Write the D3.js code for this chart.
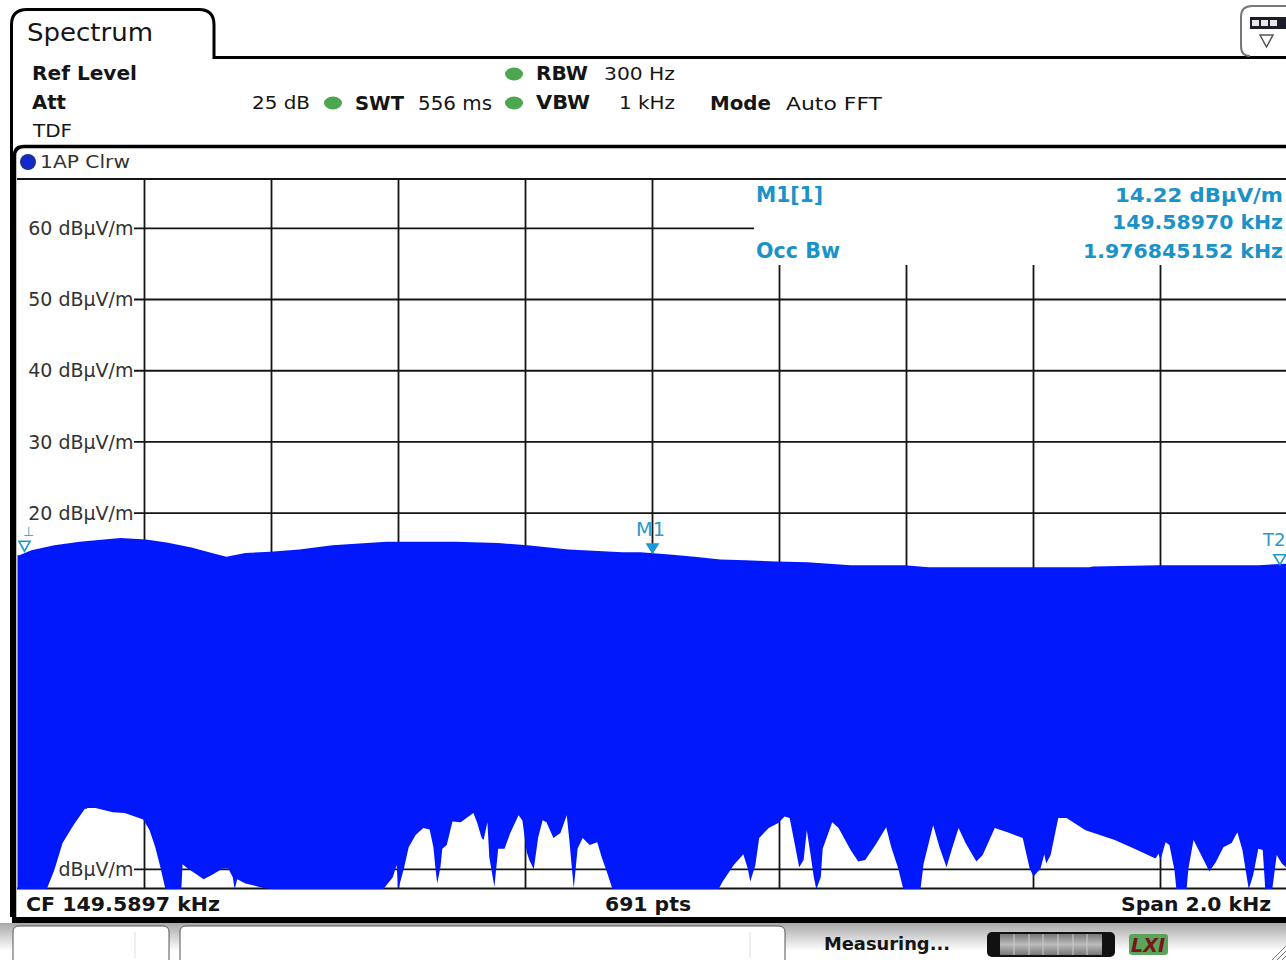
<!DOCTYPE html>
<html><head><meta charset="utf-8">
<style>html,body{margin:0;padding:0;background:#fff;overflow:hidden}svg{display:block}text{font-family:"DejaVu Sans",sans-serif}</style>
<script src="https://cdnjs.cloudflare.com/ajax/libs/d3/7.8.5/d3.min.js"></script>
</head><body><svg id="c" width="1286" height="960"></svg>
<script>
const spanHz = 2000;
const gridHz = [200,400,600,800,1000,1200,1400,1600,1800];
const levels = [60,50,40,30,20,10,0,-10,-20,-30];
const peakHz = [0,3,22,58,98,162,202,235,274,306,329,359,398,444,496,581,691,757,803,868,953,981,1027,1066,1107,1146,1195,1244,1312,1397,1435,1597,1688,1694,1798,1954,2000];
const peakDb = [14.1,14.1,14.8,15.5,16.0,16.5,16.3,15.9,15.2,14.4,13.9,14.4,14.6,14.9,15.5,16.0,16.0,15.8,15.5,14.9,14.5,14.5,14.2,13.9,13.5,13.4,13.2,13.1,12.7,12.7,12.4,12.4,12.4,12.5,12.7,12.7,12.9];
const floorHz = [0,46,58,71,88,107,123,150,169,198,208,217,225,233,258,260,268,280,293,306,323,332,339,342,346,359,378,391,411,
576,591,597,600,609,616,627,639,649,655,658,661,666,669,676,685,698,707,718,724,731,734,740,743,751,757,767,776,789,795,802,806,813,820,827,833,844,855,865,869,876,882,890,901,913,920,929,937,
1104,1110,1128,1143,1150,1154,1162,1168,1183,1198,1208,1216,1225,1231,1238,1243,1249,1254,1258,1265,1268,1283,1293,1312,1324,1335,1351,1368,1376,1387,1395,1422,1427,1435,1442,1452,1463,1471,1482,1493,1510,1520,1539,1559,1583,1594,1600,1611,1617,1620,1627,1639,1652,1682,1728,1759,1792,1797,1800,1808,1814,1822,1825,1841,1844,1852,1863,1877,1887,1899,1912,1921,1929,1939,1946,1954,1961,1965,1976,1983,1991,2000];
const floorDb = [-32.8,-32.8,-30.1,-26.3,-23.8,-21.4,-21.4,-22.0,-22.1,-23.0,-24.5,-26.9,-29.7,-32.8,-32.8,-29.3,-29.9,-30.6,-31.4,-30.8,-29.9,-29.9,-31.1,-32.8,-31.4,-32.0,-32.4,-32.7,-32.8,
-32.8,-31.1,-29.4,-32.7,-29.7,-26.9,-25.2,-24.2,-24.4,-26.9,-29.7,-32.0,-29.7,-27.1,-26.6,-23.3,-23.4,-22.8,-22.1,-23.5,-25.6,-25.9,-23.4,-28.3,-32.5,-27.1,-27.1,-24.9,-22.4,-23.1,-27.6,-28.7,-30.0,-25.5,-23.1,-23.4,-25.6,-24.9,-22.4,-25.9,-32.7,-27.1,-25.6,-26.6,-26.2,-28.3,-30.6,-32.8,
-32.8,-31.8,-29.4,-27.9,-29.9,-31.7,-29.4,-25.6,-24.2,-23.5,-22.6,-22.8,-26.9,-29.7,-28.7,-24.5,-28.0,-31.1,-32.8,-31.1,-27.1,-23.4,-24.2,-27.3,-28.9,-28.7,-26.6,-24.1,-26.9,-29.9,-32.8,-32.8,-29.2,-26.3,-23.8,-26.9,-29.7,-27.3,-24.2,-26.3,-28.9,-28.0,-24.2,-24.8,-25.6,-29.9,-31.0,-29.9,-27.9,-29.2,-28.0,-22.8,-22.8,-24.5,-25.9,-27.1,-28.5,-27.8,-28.7,-26.2,-26.6,-30.1,-32.8,-32.8,-29.9,-25.9,-27.8,-30.3,-29.0,-26.9,-26.3,-24.8,-27.3,-32.8,-30.8,-27.1,-27.3,-32.8,-32.8,-28.0,-29.2,-29.9];
const markerHz = 1000, markerDb = 14.22;
const t1Hz = 11, t2Hz = 1988;

const svg = d3.select('#c');
const x = d3.scaleLinear().domain([0,spanHz]).range([17.5,1287.5]);
const y = d3.scaleLinear().domain([60,-30]).range([228.3,869.3]);
const ink = '#151515', cyan = '#1b92c8';
const T = (s,px,py,size,o={}) => svg.append('text').attr('x',px).attr('y',py)
  .attr('font-size',size).attr('font-weight',o.w||'normal').attr('fill',o.c||ink)
  .attr('text-anchor','start').attr('textLength',o.l||null).attr('lengthAdjust','spacingAndGlyphs').text(s);

const defs = svg.append('defs');
const g1 = defs.append('linearGradient').attr('id','strip').attr('x1',0).attr('x2',0).attr('y1',0).attr('y2',1);
g1.append('stop').attr('offset',0).attr('stop-color','#a8a8a8');
g1.append('stop').attr('offset',0.75).attr('stop-color','#ffffff');
const g2 = defs.append('linearGradient').attr('id','bar').attr('x1',0).attr('x2',0).attr('y1',0).attr('y2',1);
g2.append('stop').attr('offset',0).attr('stop-color','#777');
g2.append('stop').attr('offset',0.5).attr('stop-color','#bbb');
g2.append('stop').attr('offset',1).attr('stop-color','#777');
const g3 = defs.append('radialGradient').attr('id','dot');
g3.append('stop').attr('offset',0).attr('stop-color','#0a25f0');
g3.append('stop').attr('offset',1).attr('stop-color','#1c2f9a');
const clip = defs.append('clipPath').attr('id','plot');
clip.append('rect').attr('x',17).attr('y',180).attr('width',1269).attr('height',709);

// header frame
svg.append('path').attr('d','M11.5,917 V25 Q11.5,9.5 27,9.5 H199 Q214,9.5 214,25 V57.5 H1286')
  .attr('fill','none').attr('stroke','#000').attr('stroke-width',3);
svg.append('path').attr('d','M1286,6 H1252 Q1241,6 1241,17 V46 Q1241,56 1250,56').attr('fill','none').attr('stroke','#777').attr('stroke-width',2);
svg.append('rect').attr('x',1250).attr('y',17).attr('width',36).attr('height',12).attr('fill','#1c1c2c');
[1252,1261,1270].forEach(v=>svg.append('rect').attr('x',v).attr('y',20).attr('width',7).attr('height',6).attr('fill','#e8e8e8'));
svg.append('path').attr('d','M1260,35 H1273 L1266.5,47 Z').attr('fill','#fff').attr('stroke','#555').attr('stroke-width',1.5);

T('Spectrum',27,41,24,{l:126});
T('Ref Level',32,80,20,{w:'bold',l:105});
T('Att',32,109,20,{w:'bold',l:34});
T('TDF',33,137,18,{l:39});
T('25 dB',252,109,18,{l:58});
T('SWT',355,110,20,{w:'bold',l:49});
T('556 ms',418,110,19,{l:74});
T('RBW',536,80,20,{w:'bold',l:52});
T('300 Hz',604,80,18,{l:71});
T('VBW',536,109,20,{w:'bold',l:54});
T('1 kHz',619,109,18,{l:56});
T('Mode',710,110,20,{w:'bold',l:61});
T('Auto FFT',786,110,18,{l:96});
[[514,74],[333,103],[514,103]].forEach(([a,b])=>svg.append('ellipse').attr('cx',a).attr('cy',b).attr('rx',9).attr('ry',6.5).attr('fill','#4da650'));

// diagram frame
svg.append('path').attr('d','M14.5,917 V156 Q14.5,146.5 24,146.5 H1286').attr('fill','none').attr('stroke','#000').attr('stroke-width',3.5);
svg.append('circle').attr('cx',28).attr('cy',162).attr('r',8).attr('fill','url(#dot)');
T('1AP Clrw',40,168,18,{c:'#333',l:90});
svg.append('line').attr('x1',17).attr('x2',1286).attr('y1',179).attr('y2',179).attr('stroke',ink).attr('stroke-width',1.8);

// grid and axis (underneath the trace)
const plot = svg.append('g');
plot.selectAll('line.v').data(gridHz).join('line').attr('class','v')
  .attr('x1',d=>x(d)).attr('x2',d=>x(d)).attr('y1',180).attr('y2',889)
  .attr('stroke',ink).attr('stroke-width',1.8);
const yAxis = d3.axisLeft(y).tickValues(levels).tickSize(0).tickPadding(10.5).tickFormat(d=>d+' dB\u00b5V/m');
const ax = plot.append('g').attr('transform','translate(144,0)').call(yAxis);
ax.select('.domain').remove();
ax.selectAll('text').attr('font-size',19).attr('fill','#333').attr('font-family','"DejaVu Sans",sans-serif').attr('dy','0.32em');
plot.selectAll('line.h').data(levels).join('line').attr('class','h')
  .attr('x1',134).attr('x2',1286).attr('y1',d=>y(d)).attr('y2',d=>y(d))
  .attr('stroke',ink).attr('stroke-width',1.8);
plot.append('line').attr('x1',17).attr('x2',1286).attr('y1',888.5).attr('y2',888.5).attr('stroke',ink).attr('stroke-width',1.8);

// marker info box covers the grid
svg.append('rect').attr('x',754).attr('y',180).attr('width',532).attr('height',85).attr('fill','#fff');

// trace: closed polygon from peak envelope and floor envelope
const upper = peakHz.map((h,i)=>[h,peakDb[i]]);
const lower = floorHz.map((h,i)=>[h,floorDb[i]]).reverse();
const outline = d3.line().x(d=>x(d[0])).y(d=>y(d[1]));
svg.append('path').attr('clip-path','url(#plot)').attr('d',outline(upper.concat(lower))+'Z').attr('fill','#0018fa');

// marker readouts
T('M1[1]',756,202,21,{w:'bold',c:cyan,l:67});
T('14.22 dB\u00b5V/m',1115,202,20,{w:'bold',c:cyan,l:168});
T('149.58970 kHz',1112,229,20,{w:'bold',c:cyan,l:171});
T('Occ Bw',756,258,21,{w:'bold',c:cyan,l:84});
T('1.976845152 kHz',1083,258,20,{w:'bold',c:cyan,l:200});
T('M1',636,536,19,{c:'#2a9bc8',l:29});
svg.append('path').attr('d',`M${x(markerHz)-7},${y(markerDb)-11} h14 l-7,11 Z`).attr('fill','#1b9ad6');
svg.append('path').attr('d',`M${x(t1Hz)-5.5},${y(14.8)-9} h11 l-5.5,10 Z`).attr('fill','none').attr('stroke','#1b9ad6').attr('stroke-width',1.6);
T('\u22a5',23,536,13,{c:'#2a9bc8'});
T('T2',1263,546,18,{c:'#2a9bc8'});
svg.append('path').attr('d',`M${x(t2Hz)-6},${y(12.9)-9} h12 l-6,10 Z`).attr('fill','none').attr('stroke','#1b9ad6').attr('stroke-width',1.6);

// footer
svg.append('rect').attr('x',17).attr('y',890).attr('width',1269).attr('height',27).attr('fill','#fff');
T('CF 149.5897 kHz',26,911,20,{w:'bold',l:194});
T('691 pts',605,911,20,{w:'bold',l:86});
T('Span 2.0 kHz',1121,911,20,{w:'bold',l:150});
svg.append('rect').attr('x',12).attr('y',917).attr('width',1274).attr('height',6).attr('fill','#000');

// status strip
svg.append('rect').attr('x',0).attr('y',923).attr('width',1286).attr('height',37).attr('fill','url(#strip)');
svg.append('path').attr('d','M13,960 V932 Q13,926 19,926 H163 Q169,926 169,932 V960').attr('fill','#fff').attr('stroke','#555').attr('stroke-width',1);
svg.append('path').attr('d','M180,960 V932 Q180,926 186,926 H778 Q785,926 785,932 V960').attr('fill','#fff').attr('stroke','#555').attr('stroke-width',1);
svg.append('line').attr('x1',135).attr('x2',135).attr('y1',932).attr('y2',958).attr('stroke','#ddd');
svg.append('line').attr('x1',750).attr('x2',750).attr('y1',932).attr('y2',958).attr('stroke','#ddd');
T('Measuring...',824,950,18,{w:'bold',l:126});
svg.append('rect').attr('x',987).attr('y',932).attr('width',128).attr('height',25).attr('rx',5).attr('fill','#111');
svg.append('rect').attr('x',1000).attr('y',934).attr('width',102).attr('height',21).attr('fill','url(#bar)');
[1014,1029,1043,1058,1073,1087].forEach(v=>svg.append('line').attr('x1',v).attr('x2',v).attr('y1',934).attr('y2',955).attr('stroke','#ccc'));
svg.append('rect').attr('x',1129).attr('y',934).attr('width',39).attr('height',21).attr('rx',3).attr('fill','#5aa55a');
svg.append('text').attr('x',1131).attr('y',952).attr('font-size',20).attr('font-weight','bold').attr('font-style','italic').attr('fill','#7a1420').attr('textLength',34).attr('lengthAdjust','spacingAndGlyphs').text('LXI');
[0,5,10].forEach(d=>svg.append('line').attr('x1',1272+d).attr('y1',960).attr('x2',1286).attr('y2',946+d).attr('stroke','#777'));
</script></body></html>
